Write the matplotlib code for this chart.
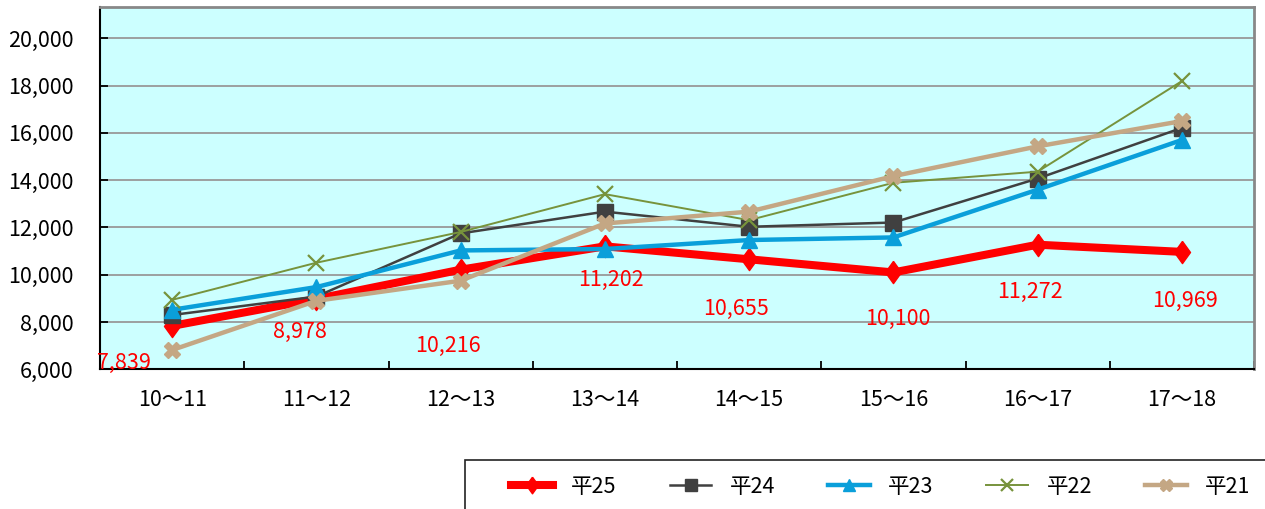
import matplotlib
matplotlib.use("Agg")
import matplotlib.pyplot as plt
from matplotlib.patches import Rectangle
import numpy as np

plt.rcParams['font.family'] = ['Noto Sans CJK JP', 'DejaVu Sans']

categories = ["10〜11", "11〜12", "12〜13", "13〜14", "14〜15", "15〜16", "16〜17", "17〜18"]
h25 = [7839, 8978, 10216, 11202, 10655, 10100, 11272, 10969]
h24 = [8300, 9080, 11750, 12670, 12030, 12210, 14070, 16210]
h23 = [8520, 9480, 11030, 11090, 11470, 11580, 13600, 15700]
h22 = [8940, 10510, 11810, 13410, 12310, 13890, 14360, 18190]
h21 = [6820, 8900, 9750, 12170, 12670, 14170, 15430, 16500]
series_names = ["平25", "平24", "平23", "平22", "平21"]
yticks = [6000, 8000, 10000, 12000, 14000, 16000, 18000, 20000]

fig = plt.figure(figsize=(12.65, 5.09), dpi=100)
ax = fig.add_axes([100/1265, 1-369.4/509, 1154/1265, 362.7/509])
ax.set_facecolor('#CCFFFF')

FS = 15.5
tall_diamond = [(0, 1), (0.72, 0), (0, -1), (-0.72, 0), (0, 1)]

x = np.arange(len(categories))
styles = [
    dict(color='#FF0000', lw=5.8, marker=tall_diamond, ms=16, mec='#FF0000', mfc='#FF0000'),
    dict(color='#404040', lw=1.8, marker='s', ms=11, mec='#404040', mfc='#404040'),
    dict(color='#0A9FDA', lw=3.2, marker='^', ms=12, mec='#0A9FDA', mfc='#0A9FDA'),
    dict(color='#77933C', lw=1.4, marker='x', ms=11, mew=1.6, mec='#77933C'),
    dict(color='#C4A784', lw=3.2, marker='X', ms=11, mec='#C4A784', mfc='#C4A784'),
]
for name, data, st in zip(series_names, [h25, h24, h23, h22, h21], styles):
    ax.plot(x, data, label=name, **st)

# data labels for 平25
offsets = [(-48, -37), (-16, -33), (-13, -76), (6, -34), (-13, -50), (4, -47), (-8, -47), (3, -49)]
for xi, v, (dx, dy) in zip(x, h25, offsets):
    ax.annotate(f"{v:,}", (xi, v), xytext=(dx, dy), textcoords='offset pixels',
                ha='center', va='center', color='#FF0000', fontsize=FS, clip_on=False)

ax.set_xlim(-0.5, len(categories) - 0.5)
ax.set_ylim(6000, 21335)
ax.set_yticks(yticks)
ax.set_yticklabels([f"{t:,}" for t in yticks], fontsize=FS)
ax.yaxis.grid(True, color='#999999', lw=1.3)
ax.set_axisbelow(True)
ax.tick_params(axis='y', direction='in', length=6, width=1.3, pad=19, colors='black')

ax.set_xticks(x)
ax.set_xticklabels(categories, fontsize=FS)
ax.set_xticks(np.arange(len(categories) + 1) - 0.5, minor=True)
ax.tick_params(axis='x', which='major', length=0, pad=14)
ax.tick_params(axis='x', which='minor', direction='in', length=6, width=1.3, colors='black')

for s in ['left', 'bottom']:
    ax.spines[s].set_color('black')
    ax.spines[s].set_linewidth(1.5)
for s in ['top', 'right']:
    ax.spines[s].set_color('#888888')
    ax.spines[s].set_linewidth(2)

# legend box (extends past the figure edge, as in the reference)
fig.patches.append(Rectangle((465/1265, -0.05), 0.7, (509-460)/509 + 0.05,
                             transform=fig.transFigure, fill=False,
                             edgecolor='#222222', lw=1.2))
leg = fig.legend(loc='center left', bbox_to_anchor=(511/1265, 1-487/509), ncol=5,
                 frameon=False, fontsize=FS,
                 handlelength=1.95, handletextpad=0.85, columnspacing=2.45,
                 borderpad=0, borderaxespad=0, markerscale=0.75)

fig.savefig('out.png', dpi=100)
